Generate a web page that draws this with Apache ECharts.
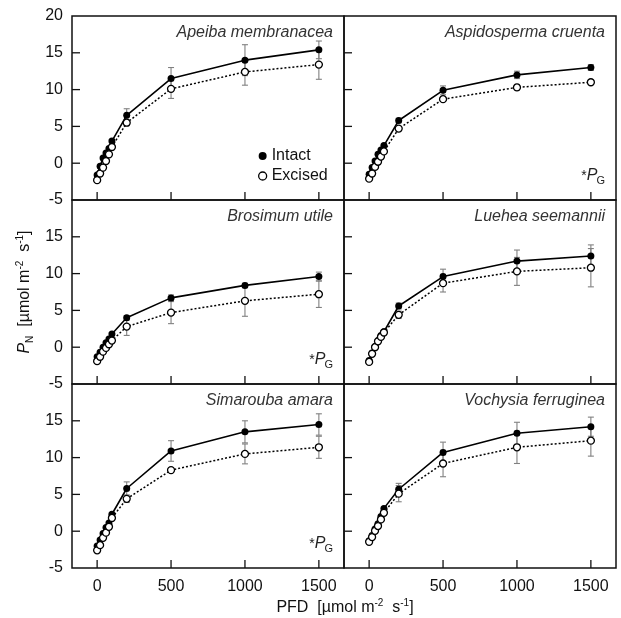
<!DOCTYPE html>
<html>
<head>
<meta charset="utf-8">
<script src="https://cdn.jsdelivr.net/npm/echarts@6/dist/echarts.min.js"></script>
<style>
  html, body { margin: 0; padding: 0; background: #fff; }
  #chart { width: 621px; height: 618px; }
</style>
</head>
<body>
<div id="chart"></div>
<script>
// light levels (PFD, umol m-2 s-1)
var pfd = [0, 20, 40, 60, 80, 100, 200, 500, 1000, 1500];

var species = ['Apeiba membranacea', 'Aspidosperma cruenta', 'Brosimum utile',
               'Luehea seemannii', 'Simarouba amara', 'Vochysia ferruginea'];

// net photosynthesis, intact leaves
var intact = [
    [-1.6, -0.4, 0.7, 1.4, 2.0, 3.0, 6.5, 11.5, 14.0, 15.4],
    [-1.5, -0.6, 0.3, 1.2, 1.8, 2.4, 5.8, 9.9, 12.0, 13.0],
    [-1.3, -0.7, 0.0, 0.6, 1.1, 1.8, 4.0, 6.7, 8.4, 9.6],
    [-1.8, -0.8, 0.1, 0.9, 1.6, 2.1, 5.6, 9.6, 11.7, 12.4],
    [-2.0, -1.2, -0.3, 0.5, 1.1, 2.3, 5.8, 10.9, 13.5, 14.5],
    [-1.3, -0.6, 0.3, 1.0, 2.0, 3.1, 5.7, 10.7, 13.3, 14.2]
];
var intactErr = [
    [0, 0, 0, 0, 0, 0, 0.9, 1.5, 2.1, 1.2],
    [0, 0, 0, 0, 0, 0, 0.3, 0.6, 0.5, 0.4],
    [0, 0, 0, 0, 0, 0, 0.3, 0.4, 0.3, 0.6],
    [0, 0, 0, 0, 0, 0, 0.4, 1.0, 1.5, 1.5],
    [0, 0, 0, 0, 0, 0, 0.9, 1.4, 1.5, 1.45],
    [0, 0, 0, 0, 0, 0, 0.8, 1.4, 1.5, 1.3]
];

// net photosynthesis, excised branches
var excised = [
    [-2.3, -1.4, -0.6, 0.3, 1.2, 2.2, 5.5, 10.1, 12.4, 13.4],
    [-2.1, -1.4, -0.5, 0.2, 0.9, 1.6, 4.7, 8.7, 10.3, 11.0],
    [-1.9, -1.3, -0.6, -0.1, 0.4, 0.9, 2.8, 4.7, 6.3, 7.2],
    [-2.0, -0.9, 0.0, 0.8, 1.4, 2.0, 4.4, 8.7, 10.3, 10.8],
    [-2.6, -1.9, -0.9, -0.2, 0.6, 1.8, 4.4, 8.3, 10.5, 11.4],
    [-1.45, -0.8, 0.05, 0.7, 1.6, 2.5, 5.1, 9.2, 11.4, 12.3]
];
var excisedErr = [
    [0, 0, 0, 0, 0, 0, 0.4, 1.3, 1.8, 2.0],
    [0, 0, 0, 0, 0, 0, 0.3, 0.3, 0.4, 0.3],
    [0, 0, 0, 0, 0, 0, 1.2, 1.5, 2.1, 1.8],
    [0, 0, 0, 0, 0, 0, 0.5, 1.2, 1.9, 2.6],
    [0, 0, 0, 0, 0, 0, 0.5, 0.3, 1.35, 1.5],
    [0, 0, 0, 0, 0, 0, 1.1, 1.8, 2.2, 2.1]
];

// panels with the *PG mark
var pgPanels = [1, 2, 4];

var xTicks = [0, 500, 1000, 1500];
var yTicks = [0, 5, 10, 15];
var X_MIN = -170, X_MAX = 1670, Y_MIN = -5, Y_MAX = 20;

var FONT = '"Liberation Sans", Arial, sans-serif';
var chart = echarts.init(document.getElementById('chart'));

var L = [72, 344], T = [16, 200, 384], W = 272, H = 184;

var grids = [], xAxes = [], yAxes = [], series = [], graphics = [];

function errBars(idx, vals, errs) {
    var d = [];
    for (var k = 0; k < pfd.length; k++) {
        if (errs[k] > 0) d.push([pfd[k], vals[k], errs[k]]);
    }
    return {
        type: 'custom',
        xAxisIndex: idx,
        yAxisIndex: idx,
        z: 1,
        silent: true,
        data: d,
        renderItem: function (params, api) {
            var x = api.value(0), y = api.value(1), e = api.value(2);
            var hi = api.coord([x, y + e]), lo = api.coord([x, y - e]);
            var st = { stroke: '#808080', lineWidth: 1.1 };
            return {
                type: 'group',
                children: [
                    { type: 'line', shape: { x1: hi[0], y1: hi[1], x2: lo[0], y2: lo[1] }, style: st },
                    { type: 'line', shape: { x1: hi[0] - 3, y1: hi[1], x2: hi[0] + 3, y2: hi[1] }, style: st },
                    { type: 'line', shape: { x1: lo[0] - 3, y1: lo[1], x2: lo[0] + 3, y2: lo[1] }, style: st }
                ]
            };
        }
    };
}

// inward tick marks: position along the axis from the panel's scale,
// anchored on the panel's own frame
function tickMarks(idx) {
    var d = [];
    xTicks.forEach(function (v) { d.push([v, 0, 0]); });
    yTicks.forEach(function (v) { d.push([0, v, 1]); });
    return {
        type: 'custom',
        xAxisIndex: idx,
        yAxisIndex: idx,
        z: 6,
        clip: false,
        silent: true,
        encode: { x: 0, y: 1 },
        data: d,
        renderItem: function (params, api) {
            var cs = params.coordSys;
            var p = api.coord([api.value(0), api.value(1)]);
            var shape;
            if (api.value(2) === 0) {
                var yb = cs.y + cs.height;
                shape = { x1: p[0], y1: yb, x2: p[0], y2: yb - 8 };
            } else {
                shape = { x1: cs.x, y1: p[1], x2: cs.x + 8, y2: p[1] };
            }
            return { type: 'line', shape: shape, style: { stroke: '#111', lineWidth: 1.3 } };
        }
    };
}

for (var i = 0; i < 6; i++) {
    var col = i % 2, row = Math.floor(i / 2);
    grids.push({
        left: L[col], top: T[row], width: W, height: H,
        show: true, borderColor: '#111', borderWidth: 1.5
    });
    xAxes.push({
        type: 'value', gridIndex: i, min: X_MIN, max: X_MAX,
        axisLine: { show: false, onZero: false },
        splitLine: { show: false },
        axisTick: { show: false },
        axisLabel: {
            show: row === 2, customValues: xTicks, margin: 11,
            fontSize: 16, color: '#111', fontFamily: FONT,
            formatter: function (v) { return String(v); }
        }
    });
    yAxes.push({
        type: 'value', gridIndex: i, min: Y_MIN, max: Y_MAX, interval: 5,
        axisLine: { show: false, onZero: false },
        splitLine: { show: false },
        axisTick: { show: false },
        axisLabel: {
            show: col === 0, margin: 9, fontSize: 16, color: '#111', fontFamily: FONT,
            formatter: (function (r) {
                return function (v) { return (v === 20 && r > 0) ? '' : String(v); };
            })(row)
        }
    });

    series.push(errBars(i, intact[i], intactErr[i]));
    series.push(errBars(i, excised[i], excisedErr[i]));
    series.push({
        name: 'Intact', type: 'line', xAxisIndex: i, yAxisIndex: i, z: 3,
        data: pfd.map(function (x, k) { return [x, intact[i][k]]; }),
        symbol: 'circle', symbolSize: 7,
        itemStyle: { color: '#000' },
        lineStyle: { color: '#000', width: 1.6 }
    });
    series.push({
        name: 'Excised', type: 'line', xAxisIndex: i, yAxisIndex: i, z: 4,
        data: pfd.map(function (x, k) { return [x, excised[i][k]]; }),
        symbol: 'circle', symbolSize: 7,
        itemStyle: { color: '#fff', borderColor: '#000', borderWidth: 1.3 },
        lineStyle: { color: '#000', width: 1.5, type: [2, 2] }
    });
    series.push(tickMarks(i));

    graphics.push({
        type: 'text', x: L[col] + W - 11, y: T[row] + 17, z: 10,
        style: {
            text: species[i], textAlign: 'right', textVerticalAlign: 'middle',
            font: 'italic 16px ' + FONT, fill: '#333'
        }
    });
    if (pgPanels.indexOf(i) >= 0) {
        graphics.push({
            type: 'text', x: L[col] + W - 11, y: T[row] + H - 24, z: 10,
            style: {
                text: '*{p|P}{g|G}', textAlign: 'right', textVerticalAlign: 'middle',
                fontSize: 14, fontFamily: FONT, fill: '#222', lineHeight: 20,
                rich: {
                    p: { fontSize: 16, fontStyle: 'italic', fontFamily: FONT, fill: '#222', lineHeight: 20 },
                    g: { fontSize: 11, fontFamily: FONT, fill: '#222', lineHeight: 20, verticalAlign: 'bottom', padding: [0, 0, 0, -1] }
                }
            }
        });
    }
}

// axis titles
graphics.push({
    type: 'text', x: 345, y: 608,
    style: {
        text: 'PFD  [µmol m{sup|-2}  s{sup|-1}]', textAlign: 'center', textVerticalAlign: 'middle',
        fontSize: 16, fontFamily: FONT, fill: '#111', lineHeight: 20,
        rich: { sup: { fontSize: 10, fontFamily: FONT, fill: '#111', lineHeight: 20, verticalAlign: 'top' } }
    }
});
graphics.push({
    type: 'text', x: 25, y: 292, rotation: Math.PI / 2,
    style: {
        text: '{p|P}{n|N}  [µmol m{sup|-2}  s{sup|-1}]', textAlign: 'center', textVerticalAlign: 'middle',
        fontSize: 16, fontFamily: FONT, fill: '#111', lineHeight: 20,
        rich: {
            p: { fontSize: 16, fontStyle: 'italic', fontFamily: FONT, fill: '#111', lineHeight: 20 },
            n: { fontSize: 10, fontFamily: FONT, fill: '#111', lineHeight: 20, verticalAlign: 'bottom' },
            sup: { fontSize: 10, fontFamily: FONT, fill: '#111', lineHeight: 20, verticalAlign: 'top' }
        }
    }
});

var option = {
    backgroundColor: '#fff',
    animation: false,
    grid: grids,
    xAxis: xAxes,
    yAxis: yAxes,
    series: series,
    legend: {
        left: 253, top: 143, orient: 'vertical', itemGap: 4,
        itemWidth: 8, itemHeight: 8,
        textStyle: { fontSize: 16, color: '#111', fontFamily: FONT, lineHeight: 16 },
        data: [
            { name: 'Intact', icon: 'circle', itemStyle: { color: '#000' } },
            { name: 'Excised', icon: 'circle', itemStyle: { color: '#fff', borderColor: '#000', borderWidth: 1.3 } }
        ]
    },
    graphic: graphics
};

chart.setOption(option);
</script>
</body>
</html>
